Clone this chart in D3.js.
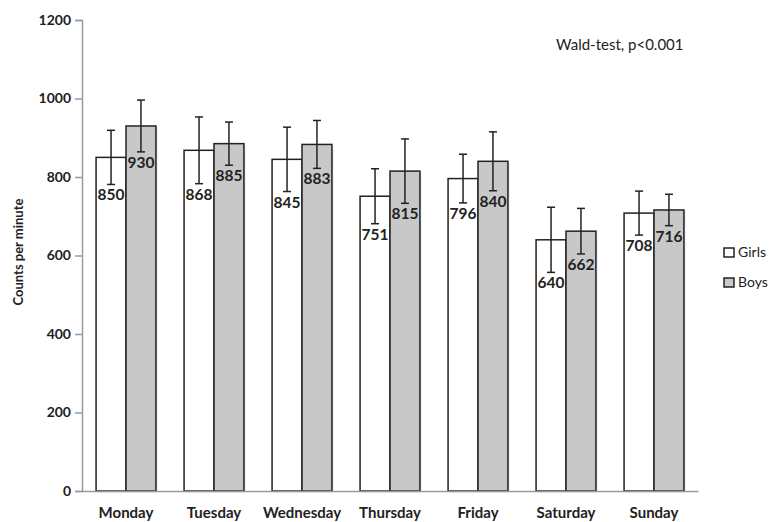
<!DOCTYPE html>
<meta charset="utf-8">
<style>
body { margin: 0; background: #fff; }
text { font-family: Lato, "Open Sans", sans-serif; fill: #222; }
.tick text, .val, .cat { font-weight: bold; }
</style>
<svg width="771" height="522"></svg>
<script src="https://d3js.org/d3.v7.min.js"></script>
<script>

var days = ["Monday", "Tuesday", "Wednesday", "Thursday", "Friday", "Saturday", "Sunday"];
var series = ["Girls", "Boys"];
var girls = [850, 868, 845, 751, 796, 640, 708];
var boys = [930, 885, 883, 815, 840, 662, 716];
var girlsErr = [69, 85, 82, 70, 62, 83, 56];
var boysErr = [66, 55, 61, 82, 75, 58, 40];
var yTicks = [0, 200, 400, 600, 800, 1000, 1200];
var colors = { Girls: "#ffffff", Boys: "#c8c8c8" };

var svg = d3.select("svg");

var x0 = d3.scaleBand().domain(days).range([82, 698])
    .paddingInner(0.32).paddingOuter(0.16);
var x1 = d3.scaleBand().domain(series).range([0, x0.bandwidth()]);
var y = d3.scaleLinear().domain([0, 1200]).range([491, 20]);

var rows = [];
days.forEach(function(d, i) {
  rows.push({ day: d, s: "Girls", v: girls[i], e: girlsErr[i] });
  rows.push({ day: d, s: "Boys", v: boys[i], e: boysErr[i] });
});

// y axis
var yAxis = svg.append("g")
    .attr("transform", "translate(82,0)")
    .call(d3.axisLeft(y).tickValues(yTicks).tickFormat(d3.format("d")).tickSize(7).tickPadding(4));
yAxis.select(".domain").attr("stroke", "#9a9a9a").attr("stroke-width", 1.5);
yAxis.selectAll(".tick line").attr("stroke", "#9a9a9a").attr("stroke-width", 1.5);
yAxis.selectAll(".tick text").style("font-size", "14px").attr("fill", "#222");

// bars
var bars = svg.append("g");
bars.selectAll("rect.shadow").data(rows).enter().append("rect")
    .attr("x", function(d) { return x0(d.day) + x1(d.s) + 1.5; })
    .attr("y", function(d) { return y(d.v) + 1.5; })
    .attr("width", x1.bandwidth())
    .attr("height", function(d) { return y(0) - y(d.v); })
    .attr("fill", "#000").attr("opacity", 0.12);
bars.selectAll("rect.bar").data(rows).enter().append("rect")
    .attr("class", "bar")
    .attr("x", function(d) { return x0(d.day) + x1(d.s); })
    .attr("y", function(d) { return y(d.v); })
    .attr("width", x1.bandwidth())
    .attr("height", function(d) { return y(0) - y(d.v); })
    .attr("fill", function(d) { return colors[d.s]; })
    .attr("stroke", "#222").attr("stroke-width", 1.5);

// x axis
var xAxis = svg.append("g")
    .attr("transform", "translate(0,491)")
    .call(d3.axisBottom(x0).tickSize(0).tickPadding(16));
xAxis.select(".domain").attr("stroke", "#9a9a9a").attr("stroke-width", 1.5);
xAxis.selectAll(".tick text").attr("class", "cat").style("font-size", "15px").attr("fill", "#222");

// error bars
var err = svg.append("g").attr("stroke", "#222").attr("stroke-width", 1.5);
rows.forEach(function(d) {
  var cx = x0(d.day) + x1(d.s) + x1.bandwidth() / 2;
  err.append("line").attr("x1", cx).attr("x2", cx)
      .attr("y1", y(d.v + d.e)).attr("y2", y(d.v - d.e));
  [d.v + d.e, d.v - d.e].forEach(function(v) {
    err.append("line").attr("x1", cx - 4).attr("x2", cx + 4)
        .attr("y1", y(v)).attr("y2", y(v));
  });
});

// value labels
svg.append("g").selectAll("text").data(rows).enter().append("text")
    .attr("class", "val")
    .attr("x", function(d) { return x0(d.day) + x1(d.s) + x1.bandwidth() / 2; })
    .attr("y", function(d) { return y(d.v - d.e) + 16; })
    .attr("text-anchor", "middle")
    .style("font-size", "15.5px")
    .text(function(d) { return d.v; });

// axis title
svg.append("text")
    .attr("transform", "translate(23,252) rotate(-90)")
    .attr("text-anchor", "middle")
    .style("font-size", "13px").style("font-weight", "bold")
    .text("Counts per minute");

// annotation
svg.append("text")
    .attr("x", 556).attr("y", 50)
    .style("font-size", "15px")
    .text("Wald-test, p<0.001");

// legend
var leg = svg.append("g").selectAll("g").data(series).enter().append("g")
    .attr("transform", function(d, i) { return "translate(724," + (248 + i * 30) + ")"; });
leg.append("rect").attr("width", 10).attr("height", 9)
    .attr("fill", function(d) { return colors[d]; })
    .attr("stroke", "#222").attr("stroke-width", 1.5);
leg.append("text").attr("x", 14).attr("y", 9)
    .style("font-size", "14px")
    .text(function(d) { return d; });

</script>
